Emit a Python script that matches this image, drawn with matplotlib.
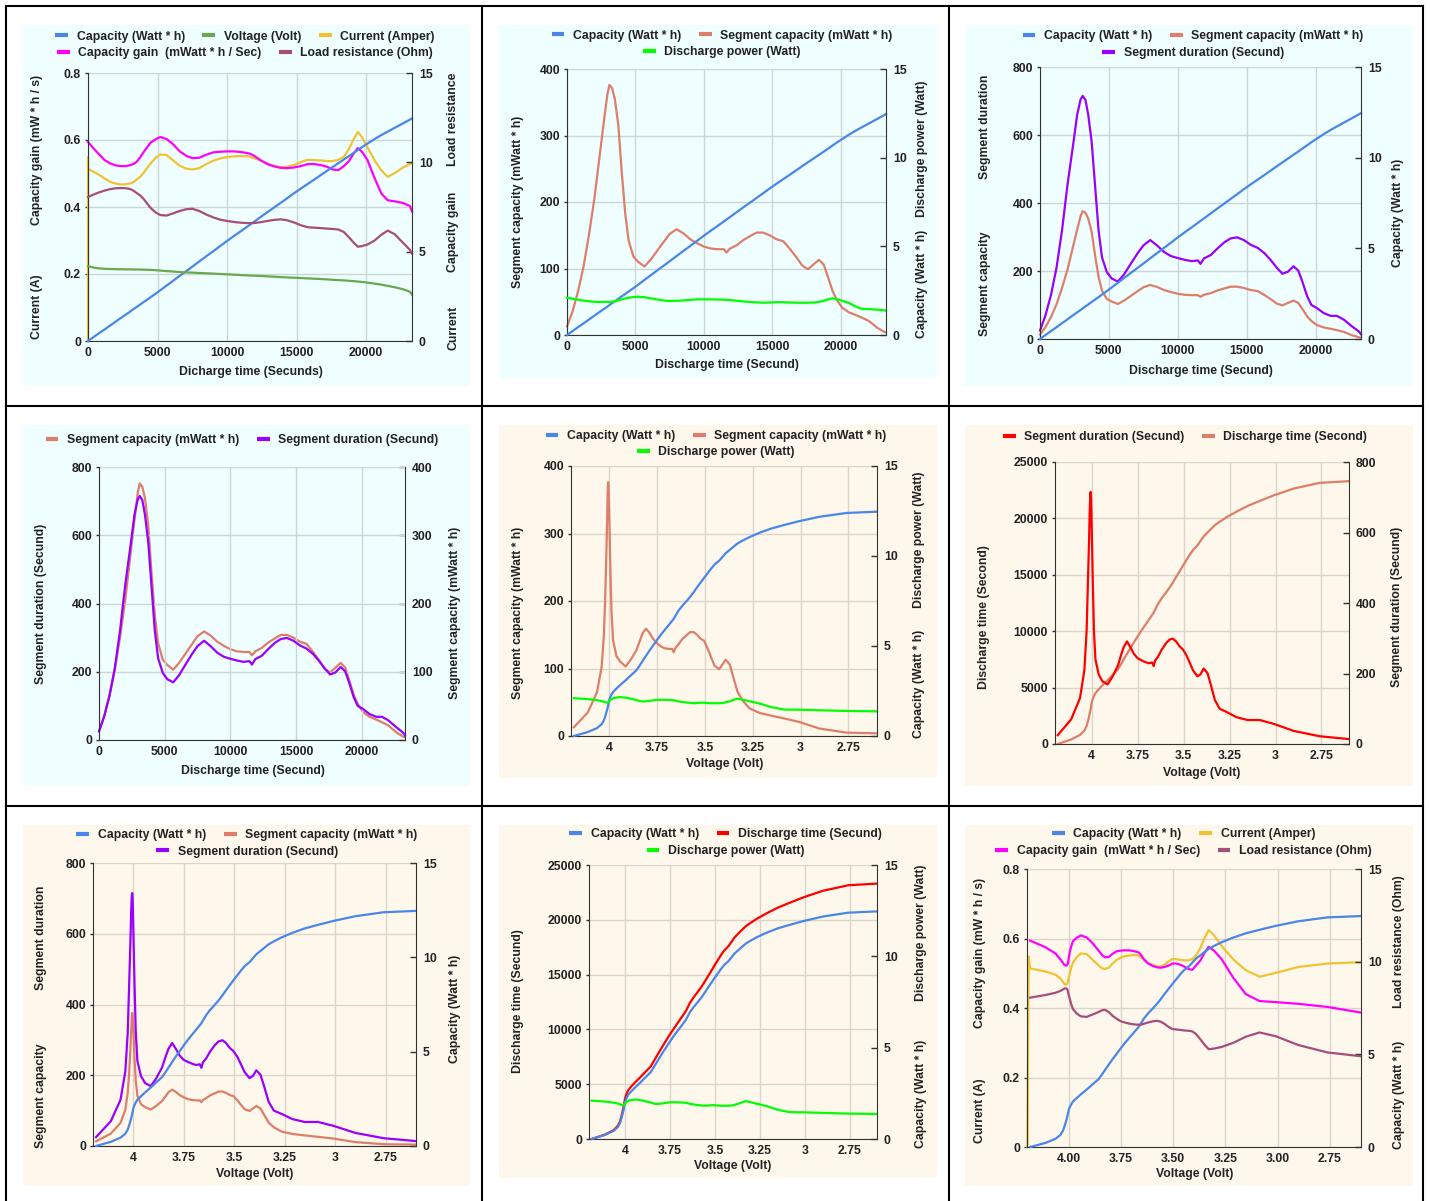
import matplotlib.pyplot as plt
from matplotlib.lines import Line2D
from matplotlib.patches import Rectangle

# one row per voltage segment of the discharge run
t_s = [0, 400, 800, 1200, 1600, 2000, 2400, 2700, 2950, 3100,
       3300, 3500, 3750, 4000, 4250, 4500, 4850, 5200, 5650, 6100,
       6600, 7100, 7500, 8000, 8500, 9000, 9500, 10000, 10500, 11000,
       11450, 11650, 11900, 12400, 12900, 13400, 13850, 14300, 14800, 15300,
       15800, 16300, 16750, 17200, 17600, 18000, 18400, 18750, 19050, 19400,
       19700, 20100, 20600, 21100, 21550, 22050, 22650, 23150, 23300]

volt = [4.185, 4.112, 4.064, 4.040, 4.028, 4.021, 4.015, 4.011, 4.008, 4.006,
        4.004, 4.002, 3.999, 3.994, 3.988, 3.980, 3.962, 3.942, 3.914, 3.888,
        3.858, 3.840, 3.826, 3.808, 3.790, 3.771, 3.752, 3.732, 3.711, 3.690,
        3.671, 3.663, 3.655, 3.640, 3.620, 3.597, 3.577, 3.559, 3.541, 3.522,
        3.504, 3.485, 3.468, 3.449, 3.425, 3.408, 3.391, 3.370, 3.352, 3.330,
        3.304, 3.267, 3.212, 3.152, 3.086, 3.009, 2.900, 2.760, 2.602]

capacity = [0, 0.22, 0.44, 0.65, 0.87, 1.09, 1.31, 1.47, 1.60, 1.69,
            1.80, 1.90, 2.04, 2.18, 2.31, 2.45, 2.64, 2.84, 3.10, 3.36,
            3.65, 3.93, 4.16, 4.45, 4.74, 5.02, 5.31, 5.60, 5.88, 6.15,
            6.40, 6.51, 6.65, 6.93, 7.21, 7.48, 7.73, 7.98, 8.26, 8.53,
            8.79, 9.05, 9.29, 9.53, 9.74, 9.95, 10.16, 10.34, 10.50, 10.69,
            10.85, 11.05, 11.30, 11.53, 11.72, 11.93, 12.18, 12.39, 12.46]

seg_cap = [13, 35, 65, 102, 150, 205, 272, 322, 362, 376,
           371, 354, 315, 245, 183, 142, 118, 110, 103, 113,
           127, 141, 152, 159, 153, 144, 138, 133, 130, 129,
           129, 124, 130, 135, 143, 149, 154, 154, 150, 144,
           141, 129, 117, 104, 99, 106, 113, 106, 88, 66,
           53, 41, 34, 30, 26, 21, 11, 5, 4]

seg_dur = [25, 70, 130, 210, 320, 455, 570, 660, 705, 715,
           703, 660, 580, 450, 320, 240, 197, 178, 169, 190,
           222, 253, 275, 291, 275, 256, 244, 238, 233, 229,
           231, 221, 237, 247, 267, 285, 296, 299, 291, 277,
           268, 252, 232, 209, 192, 198, 214, 201, 168, 125,
           100, 91, 76, 68, 68, 57, 37, 22, 14]

power = [2.10, 2.05, 1.99, 1.94, 1.90, 1.87, 1.86, 1.86, 1.87, 1.87,
         1.88, 1.90, 1.95, 2.01, 2.06, 2.10, 2.14, 2.16, 2.13, 2.07,
         2.00, 1.94, 1.92, 1.93, 1.95, 1.98, 2.01, 2.01, 2.01, 2.00,
         1.99, 1.98, 1.97, 1.93, 1.89, 1.86, 1.84, 1.82, 1.83, 1.85,
         1.85, 1.83, 1.82, 1.82, 1.82, 1.83, 1.87, 1.93, 2.00, 2.07,
         2.02, 1.93, 1.80, 1.60, 1.47, 1.46, 1.43, 1.39, 1.37]

current = [0.514, 0.505, 0.496, 0.485, 0.475, 0.470, 0.467, 0.468, 0.470, 0.471,
           0.475, 0.482, 0.490, 0.502, 0.516, 0.530, 0.546, 0.557, 0.555, 0.540,
           0.523, 0.514, 0.512, 0.516, 0.528, 0.538, 0.545, 0.549, 0.551, 0.552,
           0.552, 0.550, 0.546, 0.539, 0.530, 0.523, 0.519, 0.520, 0.525, 0.534,
           0.541, 0.540, 0.539, 0.537, 0.537, 0.541, 0.550, 0.572, 0.598, 0.624,
           0.609, 0.578, 0.540, 0.509, 0.490, 0.501, 0.518, 0.528, 0.532]

cap_gain = [0.594, 0.575, 0.557, 0.540, 0.530, 0.524, 0.522, 0.522, 0.524, 0.526,
            0.529, 0.535, 0.548, 0.564, 0.578, 0.592, 0.602, 0.609, 0.603, 0.588,
            0.566, 0.552, 0.546, 0.547, 0.556, 0.563, 0.565, 0.566, 0.566, 0.564,
            0.561, 0.559, 0.554, 0.540, 0.528, 0.521, 0.517, 0.516, 0.518, 0.522,
            0.528, 0.528, 0.525, 0.520, 0.512, 0.510, 0.522, 0.536, 0.556, 0.576,
            0.565, 0.540, 0.487, 0.440, 0.420, 0.417, 0.412, 0.403, 0.387]

load_res = [8.06, 8.20, 8.32, 8.42, 8.50, 8.55, 8.56, 8.55, 8.52, 8.48,
            8.40, 8.28, 8.15, 7.95, 7.70, 7.45, 7.20, 7.05, 7.02, 7.14,
            7.28, 7.38, 7.40, 7.28, 7.08, 6.92, 6.79, 6.72, 6.66, 6.62,
            6.60, 6.60, 6.60, 6.65, 6.72, 6.78, 6.81, 6.76, 6.64, 6.48,
            6.37, 6.34, 6.32, 6.29, 6.27, 6.24, 6.10, 5.82, 5.55, 5.28,
            5.31, 5.40, 5.62, 5.95, 6.18, 5.98, 5.50, 5.10, 4.90]

# current jumps up from 0 A when the load is switched on
spike_t = [0, 0]
spike_v = [4.198, 4.192]
spike_cur = [0.0, 0.548]

time_ticks = [0, 5000, 10000, 15000, 20000]
volt_ticks = [4.0, 3.75, 3.5, 3.25, 3.0, 2.75]
volt_labels_a = ['4', '3.75', '3.5', '3.25', '3', '2.75']
volt_labels_b = ['4.00', '3.75', '3.50', '3.25', '3.00', '2.75']

values = {'capacity': capacity, 'seg_cap': seg_cap, 'seg_dur': seg_dur,
          'power': power, 'cap_gain': cap_gain, 'load_res': load_res,
          'volt': volt, 'dtime': t_s}

BLUE = '#4a86e8'
SALMON = '#dd7e6b'
LIME = '#00ff00'
PURPLE = '#9900ff'
RED = '#ff0000'
GREEN = '#6aa84f'
YELLOW = '#f1c232'
MAGENTA = '#ff00ff'
PLUM = '#a64d79'
CYAN_BG = '#effefe'
CREAM_BG = '#fef8ec'
TXT = '#222222'

plt.rcParams['font.family'] = ['Liberation Sans', 'DejaVu Sans']
plt.rcParams['font.weight'] = 'bold'
plt.rcParams['font.size'] = 8.8

W, H = 1430, 1201
fig = plt.figure(figsize=(W / 100, H / 100), dpi=100)


def box(l, t, r, b):
    return [l / W, 1 - b / H, (r - l) / W, (b - t) / H]


def xy(name, kind):
    xs = t_s if kind == 'time' else volt
    if name == 'current':
        pre = spike_t if kind == 'time' else spike_v
        return pre + xs, spike_cur + current
    return xs, values[name]


cap_e = ('Capacity (Watt * h)', BLUE)
seg_e = ('Segment capacity (mWatt * h)', SALMON)
pow_e = ('Discharge power (Watt)', LIME)
dur_e = ('Segment duration (Secund)', PURPLE)

panels = [
    dict(bg=(23, 25, 470, 386), ax=(88, 73, 412, 341), color=CYAN_BG, kind='time',
         left=(0.8, [0, 0.2, 0.4, 0.6, 0.8], ['0', '0.2', '0.4', '0.6', '0.8']),
         right=(15, [0, 5, 10, 15]),
         lines=[('capacity', 'R', BLUE), ('volt', 'R', GREEN), ('current', 'L', YELLOW),
                ('cap_gain', 'L', MAGENTA), ('load_res', 'R', PLUM)],
         lx=245, legend=[(36.7, [cap_e, ('Voltage (Volt)', GREEN), ('Current (Amper)', YELLOW)]),
                         (53.3, [('Capacity gain  (mWatt * h / Sec)', MAGENTA),
                                 ('Load resistance (Ohm)', PLUM)])],
         labels=[('Capacity gain (mW * h / s)', 37, 150), ('Current (A)', 37, 307),
                 ('Load resistance', 453, 119), ('Capacity gain', 453, 232), ('Current', 453, 328)],
         xlabel=('Dicharge time (Secunds)', 250.5, 371.7)),
    dict(bg=(499, 25, 937, 378), ax=(567, 69, 886, 335), color=CYAN_BG, kind='time',
         left=(400, [0, 100, 200, 300, 400], None), right=(15, [0, 5, 10, 15]),
         lines=[('capacity', 'R', BLUE), ('seg_cap', 'L', SALMON), ('power', 'R', LIME)],
         lx=722, legend=[(35.7, [cap_e, seg_e]), (52, [pow_e])],
         labels=[('Segment capacity (mWatt * h)', 518, 201.5),
                 ('Discharge power (Watt)', 921.7, 149), ('Capacity (Watt * h)', 921.7, 283.5)],
         xlabel=('Discharge time (Secund)', 726.7, 365)),
    dict(bg=(965, 25, 1413, 386), ax=(1040, 67, 1361, 339), color=CYAN_BG, kind='time',
         left=(800, [0, 200, 400, 600, 800], None), right=(15, [0, 5, 10, 15]),
         lines=[('capacity', 'R', BLUE), ('seg_cap', 'L', SALMON), ('seg_dur', 'L', PURPLE)],
         lx=1193, legend=[(36.3, [cap_e, seg_e]), (53, [dur_e])],
         labels=[('Segment duration', 984.7, 126.5), ('Segment capacity', 984.7, 284),
                 ('Capacity (Watt * h)', 1398, 213)],
         xlabel=('Discharge time (Secund)', 1200.8, 370.7)),
    dict(bg=(23, 425, 470, 786), ax=(99, 467, 405, 740), color=CYAN_BG, kind='time',
         left=(800, [0, 200, 400, 600, 800], None), right=(400, [0, 100, 200, 300, 400]),
         lines=[('seg_cap', 'R', SALMON), ('seg_dur', 'L', PURPLE)], left_top=True,
         lx=242, legend=[(440, [seg_e, dur_e])],
         labels=[('Segment duration (Secund)', 40.7, 603.8),
                 ('Segment capacity (mWatt * h)', 455, 613.3)],
         xlabel=('Discharge time (Secund)', 252.5, 771)),
    dict(bg=(499, 425, 937, 778), ax=(571, 466, 877, 736), color=CREAM_BG, kind='volt',
         left=(400, [0, 100, 200, 300, 400], None), right=(15, [0, 5, 10, 15]),
         lines=[('capacity', 'R', BLUE), ('seg_cap', 'L', SALMON), ('power', 'R', LIME)],
         lx=716, legend=[(436, [cap_e, seg_e]), (452.3, [pow_e])],
         labels=[('Segment capacity (mWatt * h)', 518.3, 613),
                 ('Discharge power (Watt)', 919.3, 539.5), ('Capacity (Watt * h)', 919.3, 684)],
         xlabel=('Voltage (Volt)', 724.3, 764.3)),
    dict(bg=(965, 425, 1413, 786), ax=(1055, 462, 1349, 744), color=CREAM_BG, kind='volt',
         left=(25000, [0, 5000, 10000, 15000, 20000, 25000], None),
         right=(800, [0, 200, 400, 600, 800]),
         lines=[('seg_dur', 'R', RED), ('dtime', 'L', SALMON)],
         lx=1185, legend=[(437, [('Segment duration (Secund)', RED),
                                 ('Discharge time (Second)', SALMON)])],
         labels=[('Discharge time (Second)', 983.7, 616.7),
                 ('Segment duration (Secund)', 1397.3, 606.7)],
         xlabel=('Voltage (Volt)', 1201.8, 773.3)),
    dict(bg=(23, 825, 470, 1186), ax=(93, 863, 416, 1146), color=CREAM_BG, kind='volt',
         left=(800, [0, 200, 400, 600, 800], None), right=(15, [0, 5, 10, 15]),
         lines=[('capacity', 'R', BLUE), ('seg_cap', 'L', SALMON), ('seg_dur', 'L', PURPLE)],
         lx=247, legend=[(835, [cap_e, seg_e]), (851.7, [dur_e])],
         labels=[('Segment duration', 40.7, 937.8), ('Segment capacity', 40.7, 1096),
                 ('Capacity (Watt * h)', 455, 1008.7)],
         xlabel=('Voltage (Volt)', 254.7, 1174)),
    dict(bg=(499, 825, 937, 1178), ax=(589, 865, 877, 1139), color=CREAM_BG, kind='volt',
         left=(25000, [0, 5000, 10000, 15000, 20000, 25000], None), right=(15, [0, 5, 10, 15]),
         lines=[('capacity', 'R', BLUE), ('dtime', 'L', RED), ('power', 'R', LIME)],
         lx=725.5, legend=[(834.3, [cap_e, ('Discharge time (Secund)', RED)]), (851, [pow_e])],
         labels=[('Discharge time (Secund)', 518.3, 1001.3),
                 ('Discharge power (Watt)', 920.7, 933), ('Capacity (Watt * h)', 920.7, 1094.3)],
         xlabel=('Voltage (Volt)', 732.7, 1166)),
    dict(bg=(965, 825, 1413, 1186), ax=(1027, 869, 1361, 1147), color=CREAM_BG, kind='volt',
         vlabels=volt_labels_b,
         left=(0.8, [0, 0.2, 0.4, 0.6, 0.8], ['0', '0.2', '0.4', '0.6', '0.8']),
         right=(15, [0, 5, 10, 15]),
         lines=[('capacity', 'R', BLUE), ('current', 'L', YELLOW), ('cap_gain', 'L', MAGENTA),
                ('load_res', 'R', PLUM)],
         lx=1183.5, legend=[(834.3, [cap_e, ('Current (Amper)', YELLOW)]),
                            (851, [('Capacity gain  (mWatt * h / Sec)', MAGENTA),
                                   ('Load resistance (Ohm)', PLUM)])],
         labels=[('Capacity gain (mW * h / s)', 980.3, 953.3), ('Current (A)', 980.3, 1110.3),
                 ('Load resistance (Ohm)', 1398.7, 941.2), ('Capacity (Watt * h)', 1398.7, 1094.5)],
         xlabel=('Voltage (Volt)', 1194.3, 1174.3)),
]

for p in panels:
    l, t, r, b = p['bg']
    fig.add_artist(Rectangle((l / W, 1 - b / H), (r - l) / W, (b - t) / H,
                             transform=fig.transFigure, facecolor=p['color'],
                             edgecolor='none', zorder=-5))
    gc = '#cdd6d6' if p['color'] == CYAN_BG else '#dbd4c8'

    ax = fig.add_axes(box(*p['ax']))
    ax2 = ax.twinx()
    ax.set_facecolor('none')
    ax2.set_facecolor('none')
    if p.get('left_top'):
        ax.set_zorder(ax2.get_zorder() + 1)

    for name, side, col in p['lines']:
        x, y = xy(name, p['kind'])
        (ax if side == 'L' else ax2).plot(x, y, color=col, lw=1.6, clip_on=False,
                                          solid_joinstyle='round')

    if p['kind'] == 'time':
        ax.set_xlim(0, 23300)
        ax.set_xticks(time_ticks, [str(v) for v in time_ticks])
    else:
        ax.set_xlim(4.2, 2.6)
        ax.set_xticks(volt_ticks, p.get('vlabels', volt_labels_a))

    top, ticks, tl = p['left']
    ax.set_ylim(0, top)
    ax.set_yticks(ticks, tl if tl else [str(v) for v in ticks])
    rtop, rticks = p['right']
    ax2.set_ylim(0, rtop)
    ax2.set_yticks(rticks, [str(v) for v in rticks])

    ax.grid(True, color=gc, lw=1)
    ax.set_axisbelow(True)
    for a in (ax, ax2):
        for s in a.spines.values():
            s.set_visible(False)
    for s in ('left', 'bottom'):
        ax.spines[s].set_visible(True)
        ax.spines[s].set_color('#333333')
    ax2.spines['right'].set_visible(True)
    ax2.spines['right'].set_color('#333333')

    ax.tick_params(axis='x', length=0, pad=4.5, labelcolor=TXT)
    ax.tick_params(axis='y', length=2.5, width=1, color='#333333', pad=2.5, labelcolor=TXT)
    ax2.tick_params(axis='y', direction='in', length=4, width=1, color='#333333',
                    pad=5, labelcolor=TXT)

    for y, entries in p['legend']:
        handles = [Line2D([], [], color=c, lw=3, solid_capstyle='butt') for _, c in entries]
        fig.legend(handles, [n for n, _ in entries], loc='center',
                   bbox_to_anchor=(p['lx'] / W, 1 - y / H), ncol=len(entries), frameon=False,
                   handlelength=1.05, handletextpad=0.7, columnspacing=1.45,
                   borderpad=0, borderaxespad=0, labelcolor=TXT)

    for s, x, y in p['labels']:
        fig.text(x / W, 1 - y / H, s, rotation=90, ha='center', va='center', color=TXT)
    s, x, y = p['xlabel']
    fig.text(x / W, 1 - y / H, s, ha='center', va='center', color=TXT)

# cell borders
for x in (6, 481.5, 948.5, 1422.5):
    fig.add_artist(Line2D([x / W, x / W], [1 - 6 / H, 0], transform=fig.transFigure,
                          color='black', lw=1.5))
for y in (6, 406, 806):
    fig.add_artist(Line2D([6 / W, 1422.5 / W], [1 - y / H, 1 - y / H],
                          transform=fig.transFigure, color='black', lw=1.5))

fig.savefig('out.png', dpi=100)
